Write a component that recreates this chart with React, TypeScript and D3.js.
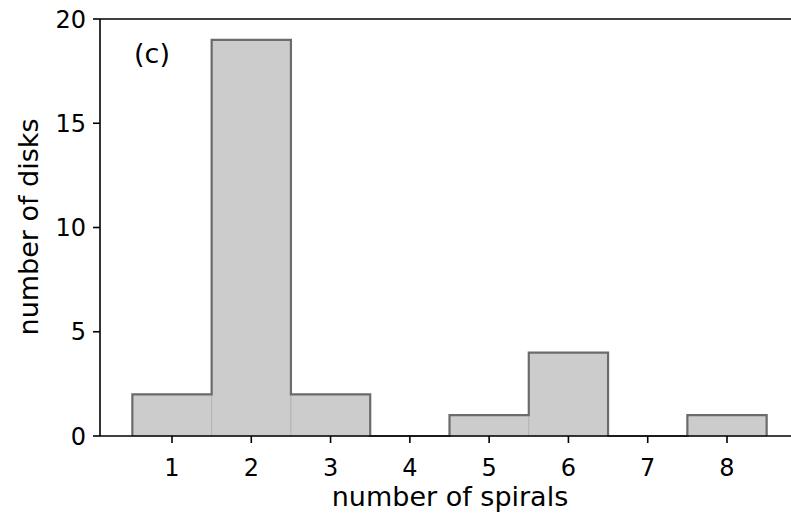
import React from "react";
import * as d3 from "d3";

// Histogram counts of disks by number of spiral arms
const spiralCounts = [1, 2, 3, 4, 5, 6, 7, 8];
const diskCounts = [2, 19, 2, 0, 1, 4, 0, 1];
const xTicks = [1, 2, 3, 4, 5, 6, 7, 8];
const yTicks = [0, 5, 10, 15, 20];

const W = 791;
const H = 516;
const left = 100;
const top = 19;
const bottom = 436;

export default function App() {
  const x = d3.scaleLinear().domain([1, 8]).range([172, 727]);
  const y = d3.scaleLinear().domain([0, 20]).range([bottom, top]);
  const xMin = x.invert(left);
  const xMax = x.invert(W + 10);

  const font = "DejaVu Sans, sans-serif";
  const tickSize = 24;
  const labelSize = 27;

  // Step outline of the histogram (drawn around the filled bins)
  const stepPts: [number, number][] = [[spiralCounts[0] - 0.5, 0]];
  spiralCounts.forEach((c, i) => {
    stepPts.push([c - 0.5, diskCounts[i]]);
    stepPts.push([c + 0.5, diskCounts[i]]);
  });
  stepPts.push([spiralCounts[spiralCounts.length - 1] + 0.5, 0]);
  const step = d3
    .line<[number, number]>()
    .x((d) => x(d[0]))
    .y((d) => y(d[1]));

  return (
    <svg width={W} height={H} style={{ position: "absolute", left: 0, top: 0 }}>
      <rect width={W} height={H} fill="#fff" />
      {spiralCounts.map((c, i) =>
        diskCounts[i] > 0 ? (
          <rect
            key={c}
            x={x(c - 0.5)}
            y={y(diskCounts[i])}
            width={x(c + 0.5) - x(c - 0.5)}
            height={y(0) - y(diskCounts[i])}
            fill="#cccccc"
            stroke="#b0b0b0"
            strokeWidth={0.8}
          />
        ) : null
      )}
      <path
        d={step(stepPts) ?? ""}
        fill="none"
        stroke="#6b6b6b"
        strokeWidth={2.2}
        strokeLinejoin="miter"
      />
      {/* spines */}
      <line x1={left} x2={W} y1={top} y2={top} stroke="#000" strokeWidth={1.6} />
      <line x1={left} x2={W} y1={bottom} y2={bottom} stroke="#000" strokeWidth={1.6} />
      <line x1={left} x2={left} y1={top} y2={bottom} stroke="#000" strokeWidth={1.6} />
      {/* y ticks */}
      {yTicks.map((t) => (
        <g key={t}>
          <line x1={left - 7} x2={left} y1={y(t)} y2={y(t)} stroke="#000" strokeWidth={1.6} />
          <text
            x={left - 14}
            y={y(t)}
            dy="0.36em"
            textAnchor="end"
            fontFamily={font}
            fontSize={tickSize}
            fill="#000"
          >
            {t}
          </text>
        </g>
      ))}
      {/* x ticks */}
      {xTicks
        .filter((t) => t >= xMin && t <= xMax)
        .map((t) => (
          <g key={t}>
            <line x1={x(t)} x2={x(t)} y1={bottom} y2={bottom + 7} stroke="#000" strokeWidth={1.6} />
            <text
              x={x(t)}
              y={476}
              textAnchor="middle"
              fontFamily={font}
              fontSize={tickSize}
              fill="#000"
            >
              {t}
            </text>
          </g>
        ))}
      <text x={450} y={506} textAnchor="middle" fontFamily={font} fontSize={labelSize} fill="#000">
        number of spirals
      </text>
      <text
        transform={`translate(38,227) rotate(-90)`}
        textAnchor="middle"
        fontFamily={font}
        fontSize={labelSize}
        fill="#000"
      >
        number of disks
      </text>
      <text x={134} y={63} fontFamily={font} fontSize={labelSize} fill="#000">
        (c)
      </text>
    </svg>
  );
}
